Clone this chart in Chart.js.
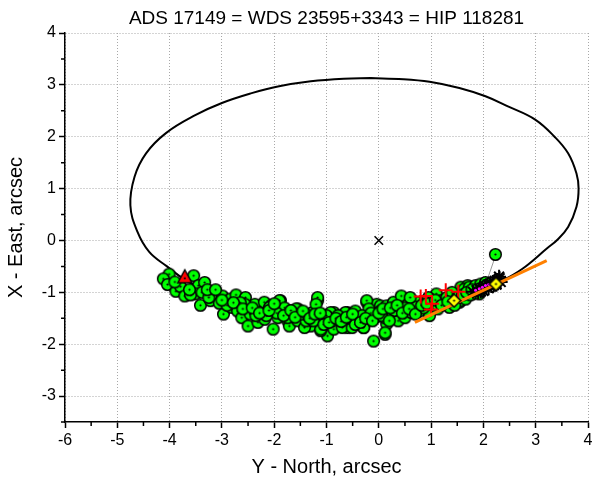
<!DOCTYPE html>
<html>
<head>
<meta charset="utf-8">
<script src="https://cdn.jsdelivr.net/npm/chart.js@4"></script>
<style>
  html, body { margin: 0; padding: 0; background: #fff; }
  #wrap { width: 598px; height: 482px; }
</style>
</head>
<body>
<div id="wrap"><canvas id="orbitChart" width="598" height="482"></canvas></div>
<script>
// orbit (closed loop, starts at the top)
const orbitPts = [
  [-0.16,3.13],[0.47,3.11],[0.97,3.06],[1.54,2.94],[2.04,2.78],[2.48,2.58],
  [2.99,2.33],[3.36,2.00],[3.62,1.68],[3.78,1.29],[3.82,1.00],[3.78,0.65],
  [3.62,0.26],[3.40,0.00],[3.23,-0.14],[2.74,-0.55],[2.33,-0.79],[1.85,-1.01],
  [1.29,-1.23],[0.60,-1.40],[0.00,-1.48],[-0.60,-1.51],[-1.50,-1.47],[-2.50,-1.30],
  [-3.12,-1.06],[-3.70,-0.76],[-4.05,-0.50],[-4.39,-0.22],[-4.62,0.18],[-4.75,0.68],
  [-4.67,1.23],[-4.45,1.68],[-4.07,2.07],[-3.50,2.42],[-3.00,2.65],[-2.43,2.84],
  [-1.93,2.97],[-1.30,3.07],[-0.67,3.12],[-0.16,3.13]
];

// measurements (green)
const measPts = [
  [-4.01,-0.65],[-4.12,-0.74],[-4.04,-0.85],[-3.88,-0.98],[-3.79,-0.89],[-3.54,-0.68],
  [-3.45,-0.87],[-3.33,-0.81],[-3.50,-1.03],[-3.71,-1.07],[-3.60,-1.05],[-3.38,-1.00],
  [-3.41,-1.25],[-3.22,-1.16],[-3.19,-1.05],[-3.05,-1.21],[-2.99,-1.07],[-2.97,-1.42],
  [-2.84,-1.13],[-2.73,-1.05],[-2.82,-1.29],[-2.70,-1.36],[-2.55,-1.10],[-2.62,-1.49],
  [-2.50,-1.65],[-2.46,-1.42],[-2.37,-1.23],[-2.31,-1.58],[-2.21,-1.36],[-2.18,-1.52],
  [-2.19,-1.19],[-2.56,-1.23],[-1.88,-1.16],[-2.05,-1.25],[-1.87,-1.39],[-1.74,-1.55],
  [-1.55,-1.32],[-1.42,-1.49],[-1.30,-1.65],[-1.17,-1.16],[-1.17,-1.10],[-0.98,-1.84],
  [-1.11,-1.74],[-0.86,-1.68],[-0.86,-1.39],[-0.60,-1.39],[-0.42,-1.55],[-0.23,-1.19],
  [-0.04,-1.23],[-0.10,-1.94],[0.12,-1.81],[0.15,-1.61],[-0.29,-1.68],[-0.60,-1.68],
  [-1.90,-1.16],[-2.09,-1.29],[-1.93,-1.49],[-2.02,-1.71],[-1.71,-1.65],[-1.74,-1.49],
  [-1.58,-1.32],[-1.55,-1.55],[-1.42,-1.68],[-1.39,-1.55],[-1.27,-1.39],[-1.20,-1.23],
  [-1.11,-1.71],[-1.05,-1.52],[-0.92,-1.39],[-0.86,-1.71],[-0.89,-1.55],[-0.70,-1.68],
  [-0.70,-1.49],[-0.64,-1.39],[-0.51,-1.68],[-0.45,-1.36],[-0.38,-1.52],[-0.29,-1.68],
  [-0.23,-1.16],[-0.19,-1.32],[-0.07,-1.49],[0.03,-1.26],[0.03,-1.36],[0.12,-1.49],
  [0.15,-1.26],[0.12,-1.78],[0.25,-1.42],[0.28,-1.19],[0.43,-1.07],[0.40,-1.32],
  [0.37,-1.55],[0.50,-1.49],[0.56,-1.23],[0.62,-1.39],[0.72,-1.19],[0.78,-1.36],
  [0.88,-1.19],[0.97,-1.45],[1.03,-1.23],[1.13,-1.32],[1.22,-1.16],[1.35,-1.29],
  [1.44,-1.07],[1.54,-1.19],[1.63,-0.97],[1.57,-0.90],[1.70,-0.87],[2.23,-0.27],
  [1.63,-0.94],[1.73,-0.90],[1.85,-0.87],[1.95,-0.84],[2.04,-0.81],[1.79,-1.03],
  [1.92,-1.03],[1.10,-1.03],[1.19,-1.16],[1.13,-1.26],[1.57,-1.16],[1.66,-1.13],
  [-1.65,-1.40],[-1.48,-1.42],[-1.35,-1.45],[-1.25,-1.55],[-1.00,-1.45],[-0.78,-1.45],
  [-0.55,-1.50],[-0.32,-1.45],[-0.15,-1.40],[0.05,-1.45],[0.30,-1.35],[0.50,-1.30],
  [0.68,-1.28],[0.85,-1.30],[-2.35,-1.45],[-2.65,-1.20],[-2.90,-1.25],[-3.25,-1.10],
  [-1.80,-1.30],[-1.95,-1.40],[-2.15,-1.45],[-1.05,-1.62],[-0.45,-1.62],[0.20,-1.55],
  [1.30,-1.10],[1.45,-1.25],[1.75,-1.05],[1.40,-1.00],[0.95,-1.10],[0.60,-1.10],
  [-3.00,-1.15],[-2.78,-1.20],[-2.60,-1.32],[-2.42,-1.30],[-2.28,-1.40],[-2.10,-1.35],
  [-2.00,-1.22],[-1.82,-1.45],[-1.68,-1.35],[-1.60,-1.48],[-1.45,-1.36],[-1.32,-1.50],
  [-1.22,-1.42],[-1.12,-1.40],[-0.95,-1.58],[-0.82,-1.50],[-0.72,-1.56],[-0.62,-1.48],
  [-0.50,-1.42],[-0.35,-1.58],[-0.25,-1.50],[-0.12,-1.55],[0.00,-1.40],[0.08,-1.32],
  [0.22,-1.30],[0.35,-1.25],[0.45,-1.40],[0.58,-1.32],[0.70,-1.42],[0.82,-1.25],
  [0.92,-1.22],[1.08,-1.15],[1.20,-1.25],[1.32,-1.18],[1.50,-1.10],[1.60,-1.05],
  [1.68,-1.00],[1.78,-0.95],[-3.90,-0.80],[-3.62,-0.95],[-3.28,-0.95],[-3.12,-0.95]
];

const companionPts = [[1.80,-0.99],[1.87,-0.96],[1.93,-0.93],[1.98,-0.91],[2.03,-0.88],
  [2.08,-0.85],[2.13,-0.83],[2.18,-0.80],[2.22,-0.78],[2.27,-0.76],[2.31,-0.73],
  [2.33,-0.80],[2.25,-0.85],[2.15,-0.88],[2.00,-0.97],[1.90,-1.00],[2.10,-0.92],
  [2.20,-0.86],[1.95,-0.98],[2.30,-0.70]];
const magentaPts = [[1.85,-0.96],[1.92,-0.93],[1.98,-0.90],[2.04,-0.87],[2.10,-0.85]];
const redPlusPts = [[0.80,-1.08],[0.90,-1.07],[1.02,-1.22],[1.00,-1.33],[1.28,-0.96],[1.52,-0.99]];
const yellowPts = [[1.44,-1.16],[2.24,-0.84]];
const orangeLine = [[0.69,-1.58],[3.21,-0.39]];
const ocLine = [[2.23,-0.30],[2.09,-0.71]];
const triPts = [[-3.71,-0.70]];
const centerPts = [[0,0]];

const xTicks = [-6, -5, -4, -3, -2, -1, 0, 1, 2, 3, 4];
const yTicks = [-3, -2, -1, 0, 1, 2, 3, 4];

const toXY = (arr) => arr.map(p => ({ x: p[0], y: p[1] }));
const FONT = "'Liberation Sans', Arial, sans-serif";

function marker(kind) {
  const c = document.createElement("canvas");
  const s = kind === "tri" ? 18 : 15;
  c.width = s; c.height = s;
  const g = c.getContext("2d");
  g.lineWidth = 1.5;
  g.strokeStyle = "#000";
  if (kind === "green") {
    g.fillStyle = "#00ff00";
    g.beginPath(); g.arc(7.5, 7.5, 5.8, 0, Math.PI * 2); g.fill(); g.stroke();
  } else if (kind === "diamond") {
    g.fillStyle = "#ffff00";
    g.beginPath(); g.moveTo(7.5, 1); g.lineTo(14, 7.5); g.lineTo(7.5, 14); g.lineTo(1, 7.5); g.closePath();
    g.fill(); g.stroke();
  } else {
    g.fillStyle = "#ff0000";
    g.beginPath(); g.moveTo(9, 2); g.lineTo(16, 15); g.lineTo(2, 15); g.closePath();
    g.fill(); g.stroke();
  }
  g.fillStyle = "#000";
  g.beginPath(); g.arc(s / 2, kind === "tri" ? 10.5 : 7.5, 1.1, 0, Math.PI * 2); g.fill();
  return c;
}

const minorTicks = {
  id: "minorTicks",
  afterDraw(chart) {
    const { ctx, scales, chartArea } = chart;
    ctx.save();
    ctx.strokeStyle = "#000";
    ctx.lineWidth = 1.5;
    ctx.beginPath();
    for (let i = 0; i < xTicks.length - 1; i++) {
      const px = scales.x.getPixelForValue(xTicks[i] + 0.5);
      ctx.moveTo(px, chartArea.bottom); ctx.lineTo(px, chartArea.bottom + 4);
    }
    [-3.5].concat(yTicks.slice(0, -1).map(v => v + 0.5)).forEach(v => {
      const py = scales.y.getPixelForValue(v);
      ctx.moveTo(chartArea.left, py); ctx.lineTo(chartArea.left - 4, py);
    });
    ctx.stroke();
    ctx.fillStyle = "#000";
    ctx.font = "19px " + FONT;
    ctx.textAlign = "center";
    ctx.textBaseline = "middle";
    ctx.fillText("ADS 17149 = WDS 23595+3343 = HIP 118281", (chartArea.left + chartArea.right) / 2, 19);
    ctx.restore();
  }
};

const gridCommon = {
  color: "#a8a8a8",
  lineWidth: 1,
  tickColor: "#000",
  tickBorderDash: [],
  tickLength: 6,
  tickWidth: 1.5
};
const borderCommon = { display: true, color: "#000", width: 1.5, dash: [1, 2] };

new Chart(document.getElementById("orbitChart"), {
  type: "scatter",
  data: {
    datasets: [
      { data: toXY(centerPts), pointStyle: "crossRot", radius: 6, borderColor: "#000", borderWidth: 1.5 },
      { data: toXY(triPts), pointStyle: marker("tri"), radius: 9 },
      { data: toXY(yellowPts), pointStyle: marker("diamond"), radius: 7 },
      { data: toXY(orangeLine), showLine: true, borderColor: "#ff8000", borderWidth: 3, pointRadius: 0 },
      { data: toXY(redPlusPts), pointStyle: "cross", radius: 7, borderColor: "#ff0000", borderWidth: 2 },
      { data: toXY(magentaPts), pointStyle: "circle", radius: 1.5, backgroundColor: "#ff00ff", borderColor: "#ff00ff", borderWidth: 0 },
      { data: toXY(companionPts), pointStyle: "star", radius: 7, borderColor: "#000", borderWidth: 2 },
      { data: toXY(measPts), pointStyle: marker("green"), radius: 7 },
      { data: toXY(ocLine), showLine: true, borderColor: "#999", borderWidth: 1, pointRadius: 0 },
      { data: toXY(orbitPts), showLine: true, borderColor: "#000", borderWidth: 2, pointRadius: 0, tension: 0.4 }
    ]
  },
  options: {
    responsive: false,
    animation: false,
    events: [],
    layout: { padding: { top: 33, right: 5, left: 0, bottom: 0 } },
    plugins: { legend: { display: false }, tooltip: { enabled: false } },
    scales: {
      x: {
        type: "linear",
        min: -6, max: 4,
        afterFit: (s) => { s.height = 60; },
        ticks: { stepSize: 1, includeBounds: false, color: "#000", padding: 3,
          font: { family: FONT, size: 16 } },
        grid: gridCommon,
        border: borderCommon,
        title: { display: true, text: "Y - North, arcsec", color: "#000",
          font: { family: FONT, size: 20 }, padding: { bottom: 3 } }
      },
      y: {
        type: "linear",
        min: -3.5, max: 4,
        afterFit: (s) => { s.width = 65; },
        ticks: { stepSize: 1, includeBounds: false, color: "#000", padding: 3,
          font: { family: FONT, size: 16 } },
        grid: gridCommon,
        border: borderCommon,
        title: { display: true, text: "X - East, arcsec", color: "#000",
          font: { family: FONT, size: 20 }, padding: { top: 4 } }
      }
    }
  },
  plugins: [minorTicks]
});
</script>
</body>
</html>
